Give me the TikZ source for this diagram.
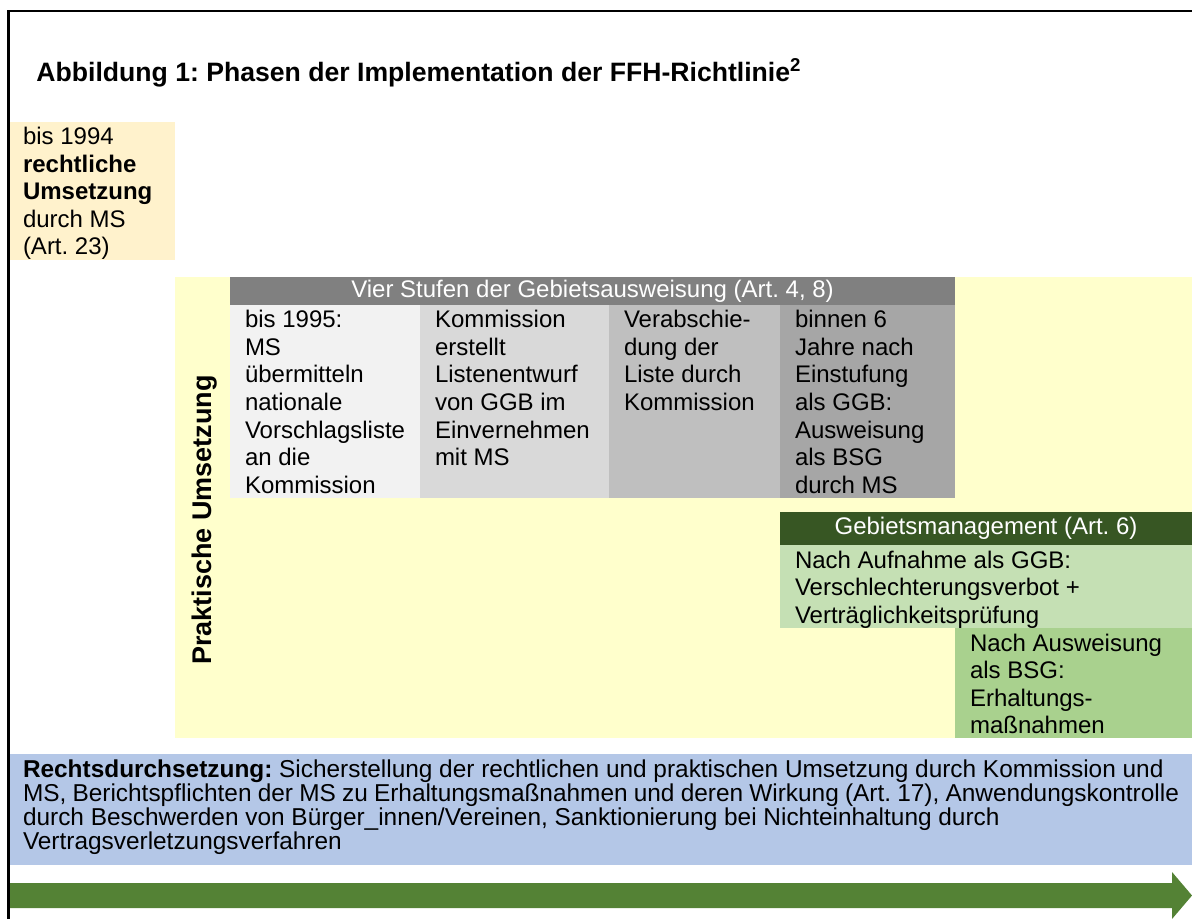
\documentclass[tikz,border=0pt]{standalone}
\usepackage{fontspec}
\setmainfont{Liberation Sans}
\usetikzlibrary{positioning}
\frenchspacing

\definecolor{legalfill}{HTML}{FFF2CC}
\definecolor{practfill}{HTML}{FFFFCC}
\definecolor{stepgray}{HTML}{808080}
\definecolor{stepA}{HTML}{F2F2F2}
\definecolor{stepB}{HTML}{D9D9D9}
\definecolor{stepC}{HTML}{BFBFBF}
\definecolor{stepD}{HTML}{A6A6A6}
\definecolor{mgmtdark}{HTML}{375623}
\definecolor{mgmtlight}{HTML}{C5E0B4}
\definecolor{mgmtmid}{HTML}{A9D18E}
\definecolor{enforcefill}{HTML}{B4C7E7}
\definecolor{arrowgreen}{HTML}{548235}

% text block, top aligned: width, height, lines
\newcommand{\celltext}[3]{\parbox[t][#2][t]{#1}{\raggedright\rule{0pt}{11.5pt}#3}}

\tikzset{
  cellbox/.style={anchor=north west, inner xsep=7.5pt, inner ysep=0pt, outer sep=0pt,
    font=\fontsize{12}{13.75}\selectfont},
  headbox/.style={anchor=north west, inner sep=0pt, outer sep=0pt, text=white,
    font=\fontsize{12}{13.75}\selectfont}
}

\begin{document}
\begin{tikzpicture}[x=0.5pt,y=-0.5pt]
  \useasboundingbox (0,0) rectangle (1192,919);

  % frame
  \draw[line width=1.25pt] (8.5,919) -- (8.5,11) -- (1192,11);

  \node[anchor=base west, inner sep=0pt, font=\bfseries\fontsize{13.3}{16}\selectfont] (title) at (36,82)
    {Abbildung 1: Phasen der Implementation der FFH-Richtlinie\textsuperscript{2}};

  % rechtliche Umsetzung
  \node[cellbox, inner xsep=6.5pt, fill=legalfill] (legal) at (10,122)
    {\celltext{69.5pt}{69pt}{bis 1994\\\textbf{rechtliche}\\\textbf{Umsetzung}\\durch MS\\(Art. 23)}};

  % praktische Umsetzung
  \node[anchor=north west, inner sep=0pt, fill=practfill, minimum width=508.5pt, minimum height=230.5pt] (pract) at (175,277) {};
  \node[rotate=90, font=\bfseries\fontsize{13.5}{16}\selectfont] (practlabel) at (205,520) {Praktische Umsetzung};

  % Gebietsausweisung
  \node[headbox, fill=stepgray, minimum width=362.5pt, minimum height=14pt] (stages) at (230,277)
    {Vier Stufen der Gebietsausweisung (Art. 4, 8)};
  \node[cellbox, fill=stepA] (stage1) at (stages.south west)
    {\celltext{80pt}{96.5pt}{bis 1995:\\MS\\übermitteln\\nationale\\Vorschlagsliste\\an die\\Kommission}};
  \node[cellbox, fill=stepB, right=0pt of stage1, anchor=north west] (stage2) at (stage1.north east)
    {\celltext{79.5pt}{96.5pt}{Kommission\\erstellt\\Listenentwurf\\von GGB im\\Einvernehmen\\mit MS}};
  \node[cellbox, fill=stepC] (stage3) at (stage2.north east)
    {\celltext{70.5pt}{96.5pt}{Verabschie-\\dung der\\Liste durch\\Kommission}};
  \node[cellbox, fill=stepD] (stage4) at (stage3.north east)
    {\celltext{72.5pt}{96.5pt}{binnen 6\\Jahre nach\\Einstufung\\als GGB:\\Ausweisung\\als BSG\\durch MS}};

  % Gebietsmanagement
  \node[headbox, fill=mgmtdark, minimum width=206pt, minimum height=16.5pt] (mgmt) at (780,512)
    {Gebietsmanagement (Art. 6)};
  \node[cellbox, fill=mgmtlight] (mgmtggb) at (mgmt.south west)
    {\celltext{191pt}{41.5pt}{Nach Aufnahme als GGB:\\Verschlechterungsverbot +\\Verträglichkeitsprüfung}};
  \node[cellbox, fill=mgmtmid] (mgmtbsg) at (stage4.east |- mgmtggb.south)
    {\celltext{103.5pt}{55pt}{Nach Ausweisung\\als BSG:\\Erhaltungs-\\maßnahmen}};

  % Rechtsdurchsetzung
  \node[cellbox, inner xsep=6.5pt, fill=enforcefill, font=\fontsize{12.2}{12.15}\selectfont] (enforce) at (10,754)
    {\celltext{578pt}{55.5pt}{\textbf{Rechtsdurchsetzung:} Sicherstellung der rechtlichen und praktischen Umsetzung durch Kommission und\\MS, Berichtspflichten der MS zu Erhaltungsmaßnahmen und deren Wirkung (Art.~17), Anwendungskontrolle\\durch Beschwerden von Bürger\_innen/Vereinen, Sanktionierung bei Nichteinhaltung durch\\Vertragsverletzungsverfahren}};

  % Zeitpfeil
  \fill[arrowgreen] (10,883) -- (1172,883) -- (1172,872) -- (1192,895.5) -- (1172,919) -- (1172,908) -- (10,908) -- cycle;
\end{tikzpicture}
\end{document}
